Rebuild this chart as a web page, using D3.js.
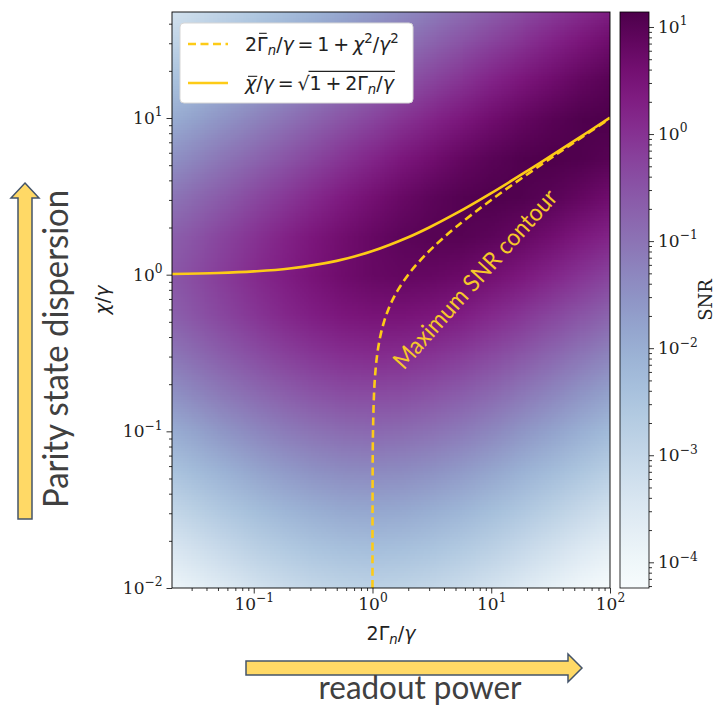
<!DOCTYPE html>
<html>
<head>
<meta charset="utf-8">
<script src="https://cdn.jsdelivr.net/npm/d3@7"></script>
<style>
  body { margin: 0; background: #fff; }
  svg { display: block; }
</style>
</head>
<body>
<div id="chart"></div>
<script>
// map samples: centres in log10 units, rows go from top (high chi) to bottom
var logGamma = [-1.75, -1.5, -1.25, -1, -0.75, -0.5, -0.25, 0, 0.25, 0.5, 0.75, 1, 1.25, 1.5, 1.75, 2];
var logChi = [1.75, 1.5, 1.25, 1, 0.75, 0.5, 0.25, 0, -0.25, -0.5, -0.75, -1, -1.25, -1.5, -1.75, -2];
// estimated log10(SNR)
var logSNR = [
  [-3.51, -3.26, -3.01, -2.76, -2.51, -2.26, -2.01, -1.76, -1.51, -1.26, -1.01, -0.76, -0.52, -0.27, -0.03, 0.21],
  [-3.01, -2.76, -2.51, -2.26, -2.01, -1.76, -1.51, -1.26, -1.01, -0.76, -0.52, -0.27, -0.03, 0.21, 0.44, 0.66],
  [-2.51, -2.26, -2.01, -1.76, -1.51, -1.26, -1.01, -0.77, -0.52, -0.27, -0.03, 0.21, 0.44, 0.65, 0.85, 1.00],
  [-2.02, -1.77, -1.52, -1.27, -1.02, -0.77, -0.52, -0.28, -0.03, 0.20, 0.43, 0.65, 0.84, 0.99, 1.10, 1.13],
  [-1.54, -1.29, -1.04, -0.79, -0.54, -0.30, -0.05, 0.19, 0.42, 0.63, 0.83, 0.98, 1.09, 1.12, 1.09, 1.00],
  [-1.09, -0.85, -0.60, -0.35, -0.11, 0.13, 0.36, 0.58, 0.78, 0.94, 1.05, 1.10, 1.07, 0.98, 0.83, 0.65],
  [-0.75, -0.51, -0.26, -0.02, 0.22, 0.44, 0.64, 0.81, 0.94, 1.01, 1.01, 0.94, 0.81, 0.63, 0.41, 0.20],
  [-0.62, -0.38, -0.14, 0.10, 0.31, 0.51, 0.67, 0.79, 0.84, 0.81, 0.73, 0.58, 0.40, 0.19, -0.04, -0.28],
  [-0.76, -0.52, -0.28, -0.06, 0.14, 0.31, 0.44, 0.51, 0.51, 0.44, 0.31, 0.13, -0.07, -0.30, -0.53, -0.77],
  [-1.11, -0.87, -0.64, -0.42, -0.22, -0.06, 0.05, 0.10, 0.07, -0.02, -0.17, -0.35, -0.56, -0.79, -1.03, -1.27],
  [-1.55, -1.31, -1.08, -0.87, -0.68, -0.52, -0.41, -0.38, -0.41, -0.51, -0.66, -0.85, -1.06, -1.29, -1.53, -1.77],
  [-2.03, -1.80, -1.57, -1.35, -1.16, -1.01, -0.90, -0.86, -0.90, -1.00, -1.15, -1.34, -1.56, -1.79, -2.03, -2.27],
  [-2.53, -2.29, -2.06, -1.84, -1.65, -1.50, -1.40, -1.36, -1.40, -1.50, -1.65, -1.84, -2.06, -2.29, -2.53, -2.77],
  [-3.03, -2.79, -2.56, -2.34, -2.15, -2.00, -1.90, -1.86, -1.90, -2.00, -2.15, -2.34, -2.56, -2.79, -3.03, -3.27],
  [-3.53, -3.29, -3.06, -2.84, -2.65, -2.50, -2.40, -2.36, -2.40, -2.50, -2.65, -2.84, -3.06, -3.29, -3.53, -3.77],
  [-4.03, -3.79, -3.56, -3.34, -3.15, -3.00, -2.90, -2.86, -2.90, -3.00, -3.15, -3.34, -3.56, -3.79, -4.03, -4.27]
];

// chi/gamma = sqrt(1 + 2Gamma_n/gamma)
var solidGamma = [0.02, 0.05, 0.1, 0.2, 0.5, 1, 2, 3, 5, 10, 20, 30, 50, 100];
var solidChi = [1.01, 1.025, 1.049, 1.095, 1.225, 1.414, 1.732, 2.0, 2.449, 3.317, 4.583, 5.568, 7.141, 10.05];
// 2Gamma_n/gamma = 1 + chi^2/gamma^2
var dashChi = [0.01, 0.03, 0.1, 0.2, 0.3, 0.4, 0.5, 0.6, 0.7, 0.8, 1, 1.2, 1.5, 2, 3, 5, 7, 9.95];
var dashGamma = [1.0001, 1.0009, 1.01, 1.04, 1.09, 1.16, 1.25, 1.36, 1.49, 1.64, 2, 2.44, 3.25, 5, 10, 26, 50, 100];

var xTicks = [0.1, 1, 10, 100];
var yTicks = [0.01, 0.1, 1, 10];
var cTicks = [1e-4, 1e-3, 1e-2, 1e-1, 1, 10];

var W = 725, H = 707;
var gold = "#fdcb17";
var cLo = -4.24, cHi = 1.14;

var svg = d3.select("#chart").append("svg")
  .attr("width", W)
  .attr("height", H);

var x = d3.scaleLog().domain([0.0205, 100]).range([172, 610]);
var y = d3.scaleLog().domain([0.01, 47.5]).range([588, 12]);
var cy = d3.scaleLog().domain([Math.pow(10, cLo), Math.pow(10, cHi)]).range([588, 12]);

function color(l) {
  var t = (l - cLo) / (cHi - cLo);
  return d3.interpolateBuPu(Math.max(0, Math.min(1, t)));
}

svg.append("clipPath").attr("id", "plotclip")
  .append("rect").attr("x", 172).attr("y", 12).attr("width", 438).attr("height", 576);

// heat map: one pixel per sample, stretched over the plot by the browser
var cv = document.createElement("canvas");
cv.width = logGamma.length;
cv.height = logChi.length;
var ctx = cv.getContext("2d");
logSNR.forEach(function(row, j) {
  row.forEach(function(v, i) {
    ctx.fillStyle = color(v);
    ctx.fillRect(i, j, 1, 1);
  });
});
var half = 0.125;
var ix0 = x(Math.pow(10, logGamma[0] - half)),
    ix1 = x(Math.pow(10, logGamma[logGamma.length - 1] + half)),
    iy0 = y(Math.pow(10, logChi[0] + half)),
    iy1 = y(Math.pow(10, logChi[logChi.length - 1] - half));
svg.append("g").attr("clip-path", "url(#plotclip)")
  .append("image")
  .attr("href", cv.toDataURL())
  .attr("x", ix0).attr("y", iy0)
  .attr("width", ix1 - ix0).attr("height", iy1 - iy0)
  .attr("preserveAspectRatio", "none");

// curves
var lines = svg.append("g").attr("clip-path", "url(#plotclip)");
var line = d3.line()
  .x(function(d) { return x(d[0]); })
  .y(function(d) { return y(d[1]); })
  .curve(d3.curveCatmullRom.alpha(0.5));

lines.append("path")
  .attr("d", line(dashGamma.map(function(g, i) { return [g, dashChi[i]]; })))
  .attr("fill", "none").attr("stroke", gold).attr("stroke-width", 2.6)
  .attr("stroke-dasharray", "8,4.5");
lines.append("path")
  .attr("d", line(solidGamma.map(function(g, i) { return [g, solidChi[i]]; })))
  .attr("fill", "none").attr("stroke", gold).attr("stroke-width", 2.6);

// annotation
svg.append("text")
  .attr("transform", "translate(475,279) rotate(-48)")
  .attr("text-anchor", "middle")
  .attr("dy", "0.35em")
  .attr("font-family", "Lato")
  .attr("font-size", 24)
  .attr("fill", "#f6c82a")
  .attr("textLength", 232)
  .attr("lengthAdjust", "spacingAndGlyphs")
  .text("Maximum SNR contour");

// frame
svg.append("rect").attr("x", 172).attr("y", 12).attr("width", 438).attr("height", 576)
  .attr("fill", "none").attr("stroke", "#000").attr("stroke-width", 0.9);

// axes
function exponent(d) {
  var e = Math.round(Math.log10(d));
  return e < 0 ? "\u2212" + (-e) : "" + e;
}
function powLabels(g) {
  g.selectAll(".tick text").each(function(d) {
    var t = d3.select(this);
    t.text(null);
    t.append("tspan").text("10");
    t.append("tspan").attr("dy", "-0.62em").attr("font-size", "0.72em").text(exponent(d));
  });
}
function minors(domain) {
  var out = [];
  for (var e = -5; e <= 2; e++) {
    for (var k = 2; k <= 9; k++) {
      var v = k * Math.pow(10, e);
      if (v >= domain[0] && v <= domain[1]) out.push(v);
    }
  }
  return out;
}
function styleAxis(g) {
  g.select(".domain").remove();
  g.selectAll(".tick line").attr("stroke", "#000").attr("stroke-width", 0.8);
  g.selectAll("text").attr("font-family", "DejaVu Serif").attr("font-size", 17).attr("fill", "#222");
}

var gx = svg.append("g").attr("transform", "translate(0,588)")
  .call(d3.axisBottom(x).tickValues(xTicks).tickSize(5.5).tickPadding(4));
styleAxis(gx); powLabels(gx);
var gxm = svg.append("g").attr("transform", "translate(0,588)")
  .call(d3.axisBottom(x).tickValues(minors(x.domain())).tickSize(3).tickFormat(""));
styleAxis(gxm);

var gy = svg.append("g").attr("transform", "translate(172,0)")
  .call(d3.axisLeft(y).tickValues(yTicks).tickSize(5.5).tickPadding(4));
styleAxis(gy); powLabels(gy);
var gym = svg.append("g").attr("transform", "translate(172,0)")
  .call(d3.axisLeft(y).tickValues(minors(y.domain())).tickSize(3).tickFormat(""));
styleAxis(gym);

// colour bar
var grad = svg.append("defs").append("linearGradient").attr("id", "cbar")
  .attr("x1", 0).attr("y1", 1).attr("x2", 0).attr("y2", 0);
d3.range(0, 1.0001, 0.05).forEach(function(t) {
  grad.append("stop").attr("offset", t).attr("stop-color", d3.interpolateBuPu(t));
});
svg.append("rect").attr("x", 620).attr("y", 12).attr("width", 29).attr("height", 576)
  .attr("fill", "url(#cbar)").attr("stroke", "#000").attr("stroke-width", 0.8);

var gc = svg.append("g").attr("transform", "translate(649,0)")
  .call(d3.axisRight(cy).tickValues(cTicks).tickSize(5).tickPadding(4));
styleAxis(gc); powLabels(gc);
var gcm = svg.append("g").attr("transform", "translate(649,0)")
  .call(d3.axisRight(cy).tickValues(minors(cy.domain())).tickSize(3).tickFormat(""));
styleAxis(gcm);

svg.append("text")
  .attr("transform", "translate(712,300) rotate(-90)")
  .attr("text-anchor", "middle")
  .attr("font-family", "DejaVu Serif")
  .attr("font-size", 18)
  .attr("fill", "#222")
  .text("SNR");

// math-ish text laid out piece by piece
function mathRun(g, parts, fs) {
  var cx = 0, boxes = [];
  parts.forEach(function(p) {
    cx += (p.pre || 0) * fs;
    var s = (p.s || 1) * fs;
    var t = g.append("text")
      .attr("x", cx).attr("y", (p.dy || 0) * fs)
      .attr("font-family", "DejaVu Sans")
      .attr("font-size", s)
      .attr("font-style", p.i ? "italic" : "normal")
      .attr("fill", "#222")
      .text(p.t);
    var w = t.node().getComputedTextLength();
    boxes.push({ x: cx, w: w, s: s });
    cx += w + (p.post || 0) * fs;
  });
  return { boxes: boxes, width: cx };
}

var fsAx = 19;
var xl = svg.append("g");
var xr = mathRun(xl, [
  { t: "2" }, { t: "\u0393" }, { t: "n", i: 1, s: 0.7, dy: 0.22 }, { t: "/" }, { t: "\u03b3", i: 1 }
], fsAx);
xl.attr("transform", "translate(" + (391 - xr.width / 2) + ",640)");

var yl = svg.append("g");
var yr = mathRun(yl, [{ t: "\u03c7", i: 1 }, { t: "/" }, { t: "\u03b3", i: 1 }], fsAx);
yl.attr("transform", "translate(109,300) rotate(-90) translate(" + (-yr.width / 2) + ",0)");

// legend
var lg = svg.append("g");
lg.append("rect").attr("x", 180).attr("y", 23).attr("width", 233).attr("height", 80)
  .attr("rx", 4).attr("fill", "#fff").attr("stroke", "#d6d6d6").attr("stroke-width", 1);
lg.append("line").attr("x1", 188).attr("x2", 228).attr("y1", 44).attr("y2", 44)
  .attr("stroke", gold).attr("stroke-width", 2.6).attr("stroke-dasharray", "8,4.5");
lg.append("line").attr("x1", 188).attr("x2", 228).attr("y1", 83).attr("y2", 83)
  .attr("stroke", gold).attr("stroke-width", 2.6);

var fsL = 19;
var l1 = lg.append("g").attr("transform", "translate(245,51)");
var r1 = mathRun(l1, [
  { t: "2" }, { t: "\u0393" }, { t: "n", i: 1, s: 0.7, dy: 0.22 }, { t: "/" }, { t: "\u03b3", i: 1 },
  { t: "=", pre: 0.2, post: 0.2 }, { t: "1" }, { t: "+", pre: 0.2, post: 0.2 },
  { t: "\u03c7", i: 1 }, { t: "2", s: 0.7, dy: -0.42 }, { t: "/" }, { t: "\u03b3", i: 1 }, { t: "2", s: 0.7, dy: -0.42 }
], fsL);
var gb = r1.boxes[1];
l1.append("line").attr("x1", gb.x + 2).attr("x2", gb.x + gb.w - 1)
  .attr("y1", -0.93 * fsL).attr("y2", -0.93 * fsL).attr("stroke", "#222").attr("stroke-width", 1.1);

var l2 = lg.append("g").attr("transform", "translate(245,90)");
var r2 = mathRun(l2, [
  { t: "\u03c7", i: 1 }, { t: "/" }, { t: "\u03b3", i: 1 }, { t: "=", pre: 0.2, post: 0.2 },
  { t: "\u221a" }, { t: "1" }, { t: "+", pre: 0.2, post: 0.2 }, { t: "2" }, { t: "\u0393" },
  { t: "n", i: 1, s: 0.7, dy: 0.22 }, { t: "/" }, { t: "\u03b3", i: 1 }
], fsL);
var cb = r2.boxes[0];
l2.append("line").attr("x1", cb.x + 3).attr("x2", cb.x + cb.w + 1)
  .attr("y1", -0.72 * fsL).attr("y2", -0.72 * fsL).attr("stroke", "#222").attr("stroke-width", 1.1);
var sq = r2.boxes[4];
l2.append("line").attr("x1", sq.x + sq.w - 1).attr("x2", r2.width + 1)
  .attr("y1", -0.98 * fsL).attr("y2", -0.98 * fsL).attr("stroke", "#222").attr("stroke-width", 1.1);

// annotation arrows and captions
var arrowFill = "#ffd966", arrowEdge = "#44546a";
svg.append("path")
  .attr("d", d3.line()([[25, 183], [39, 198], [32, 198], [32, 519], [18, 519], [18, 198], [11, 198]]) + "Z")
  .attr("fill", arrowFill).attr("stroke", arrowEdge).attr("stroke-width", 1.5);
svg.append("path")
  .attr("d", d3.line()([[582, 668], [568, 654], [568, 661], [246, 661], [246, 675], [568, 675], [568, 682]]) + "Z")
  .attr("fill", arrowFill).attr("stroke", arrowEdge).attr("stroke-width", 1.5);

svg.append("text")
  .attr("transform", "translate(68,349) rotate(-90)")
  .attr("text-anchor", "middle")
  .attr("font-family", "Lato")
  .attr("font-size", 34)
  .attr("fill", "#404040")
  .attr("textLength", 318)
  .attr("lengthAdjust", "spacingAndGlyphs")
  .text("Parity state dispersion");

svg.append("text")
  .attr("x", 420).attr("y", 699)
  .attr("text-anchor", "middle")
  .attr("font-family", "Lato")
  .attr("font-size", 32)
  .attr("fill", "#404040")
  .attr("textLength", 203)
  .attr("lengthAdjust", "spacingAndGlyphs")
  .text("readout power");
</script>
</body>
</html>
